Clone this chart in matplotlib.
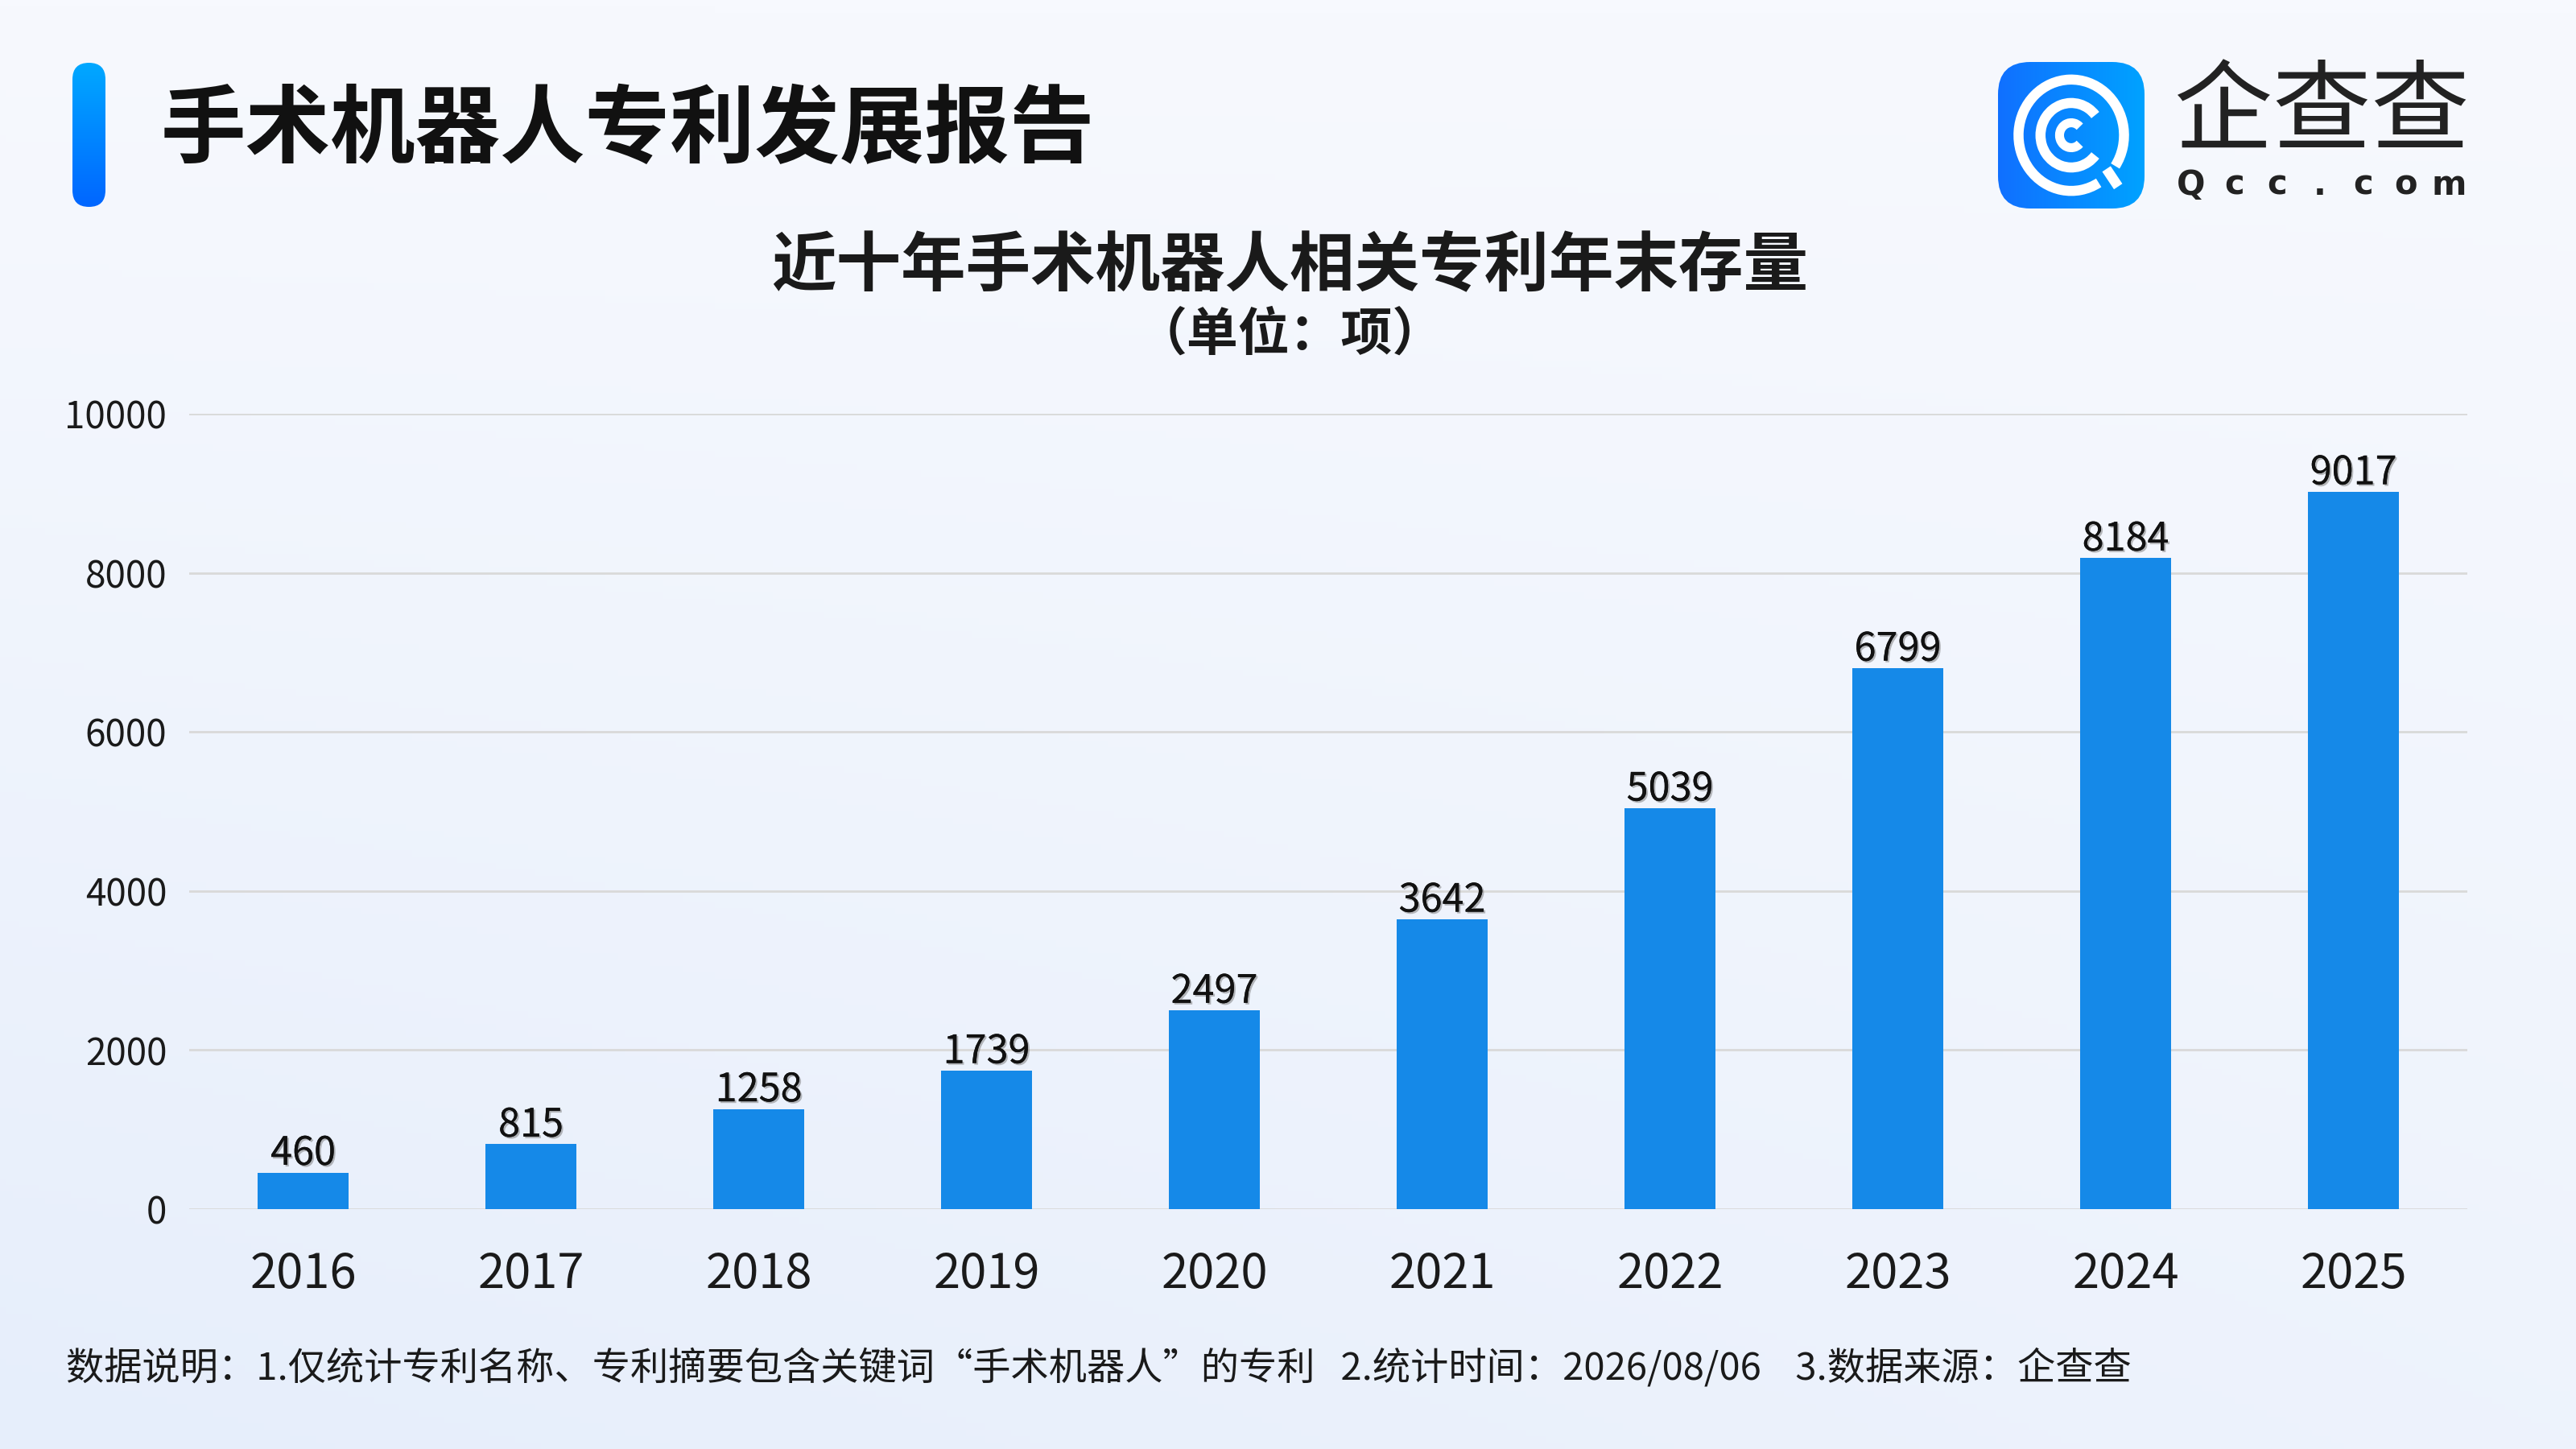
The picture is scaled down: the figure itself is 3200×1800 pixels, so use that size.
import numpy as np
import matplotlib
matplotlib.use("Agg")
import matplotlib.pyplot as plt
import matplotlib.patheffects as pe
from matplotlib.patches import FancyBboxPatch, Arc
from matplotlib.colors import LinearSegmentedColormap

plt.rcParams['font.family'] = ['Noto Sans CJK SC', 'DejaVu Sans']

# data
years = ['2016', '2017', '2018', '2019', '2020', '2021', '2022', '2023', '2024', '2025']
counts = [460, 815, 1258, 1739, 2497, 3642, 5039, 6799, 8184, 9017]
y_ticks = [0, 2000, 4000, 6000, 8000, 10000]

title = '手术机器人专利发展报告'
chart_title = '近十年手术机器人相关专利年末存量'
unit_text = '（单位：项）'
note = '数据说明：1.仅统计专利名称、专利摘要包含关键词“手术机器人”的专利   2.统计时间：2026/08/06    3.数据来源：企查查'

bar_color = '#1589E8'
text_color = '#1a1a1a'

fig = plt.figure(figsize=(32, 18), dpi=100)

# background gradient
bg = fig.add_axes([0, 0, 1, 1], zorder=-10)
gx, gy = np.meshgrid(np.linspace(0, 1, 400), np.linspace(0, 1, 225))
shade = 0.55 * gy + 0.45 * (1 - gx) * gy  # bluer toward bottom-left
bg_cmap = LinearSegmentedColormap.from_list('bg', ['#F7F9FE', '#E6EEFB'])
bg.imshow(shade, cmap=bg_cmap, aspect='auto', extent=[0, 1, 0, 1], origin='upper')
bg.set_axis_off()

# accent bar beside the title
acc = fig.add_axes([90 / 3200, 1 - 257 / 1800, 41 / 3200, 179 / 1800])
acc_cmap = LinearSegmentedColormap.from_list('acc', ['#0066FF', '#00A8FF'])
acc.imshow(np.linspace(0, 1, 100)[:, None], cmap=acc_cmap, aspect='auto',
           extent=[0, 1, 0, 1], origin='lower')
clip = FancyBboxPatch((0, 0), 1, 1, boxstyle='round,pad=0,rounding_size=0.5',
                      transform=acc.transData, facecolor='none', edgecolor='none',
                      mutation_aspect=0.23)
acc.add_patch(clip)
acc.images[0].set_clip_path(clip)
acc.set_xlim(0, 1)
acc.set_ylim(0, 1)
acc.set_axis_off()

fig.text(200 / 3200, 1 - 163 / 1800, title, fontsize=76, fontweight='black',
         color='#111111', ha='left', va='center')

# logo
logo = fig.add_axes([2482 / 3200, 1 - 259 / 1800, 182 / 3200, 182 / 1800])
logo.set_axis_off()
logo_cmap = LinearSegmentedColormap.from_list('logo', ['#1070FF', '#00A2FF'])
logo.imshow(np.linspace(0, 1, 100)[None, :], cmap=logo_cmap, aspect='auto',
            extent=[0, 1, 0, 1])
lclip = FancyBboxPatch((0, 0), 1, 1, boxstyle='round,pad=0,rounding_size=0.22',
                       transform=logo.transData, facecolor='none', edgecolor='none')
logo.add_patch(lclip)
logo.images[0].set_clip_path(lclip)
logo.add_patch(Arc((0.5, 0.5), 0.72, 0.76, theta1=-35, theta2=300, color='white', lw=9))
logo.add_patch(Arc((0.5, 0.5), 0.42, 0.44, theta1=40, theta2=320, color='white', lw=9))
logo.add_patch(Arc((0.5, 0.5), 0.16, 0.17, theta1=45, theta2=315, color='white', lw=8))
logo.plot([0.74, 0.82], [0.27, 0.15], color='white', lw=9, solid_capstyle='butt')
logo.set_xlim(0, 1)
logo.set_ylim(0, 1)

fig.text(2884 / 3200, 1 - 206 / 1800, '企查查', fontsize=88, color='#222222',
         ha='center', va='bottom')
for ch, cx in zip('Qcc.com', np.linspace(2722, 3042, 7)):
    fig.text(cx / 3200, 1 - 209 / 1800, ch, fontsize=30, fontweight='semibold',
             color='#222222', ha='center', va='top', family=['DejaVu Sans'])

# chart titles
fig.text(1602 / 3200, 1 - 332 / 1800, chart_title, fontsize=58, fontweight='bold',
         color=text_color, ha='center', va='center')
fig.text(1602 / 3200, 1 - 416 / 1800, unit_text, fontsize=46, fontweight='bold',
         color=text_color, ha='center', va='center')

# main chart
ax = fig.add_axes([235 / 3200, 1 - 1502 / 1800, (3065 - 235) / 3200, (1502 - 514) / 1800])
ax.set_facecolor('none')
x = np.arange(len(years))
bars = ax.bar(x, counts, width=0.4, color=bar_color, zorder=3)
ax.set_xlim(-0.5, len(years) - 0.5)
ax.set_ylim(0, 10000)
ax.set_yticks(y_ticks)
ax.set_yticklabels([str(v) for v in y_ticks], fontsize=33, color=text_color)
ax.set_xticks(x)
ax.set_xticklabels(years, fontsize=43, color=text_color)
ax.tick_params(axis='both', length=0)
ax.tick_params(axis='x', pad=37)
ax.tick_params(axis='y', pad=20)
ax.grid(axis='y', color='#D9D9D9', linewidth=2, zorder=0)
for s in ax.spines.values():
    s.set_visible(False)

shadow = [pe.withSimplePatchShadow(offset=(1.5, -1.5), shadow_rgbFace='#777777', alpha=0.5),
          pe.Normal()]
for xi, v in zip(x, counts):
    ax.annotate(str(v), (xi, v), xytext=(0, -1), textcoords='offset points',
                ha='center', va='bottom', fontsize=35, color='#111111',
                path_effects=shadow, zorder=4)

fig.text(82 / 3200, 1 - 1700 / 1800, note, fontsize=34, color=text_color,
         ha='left', va='center')

fig.savefig('out.png', dpi=100)
